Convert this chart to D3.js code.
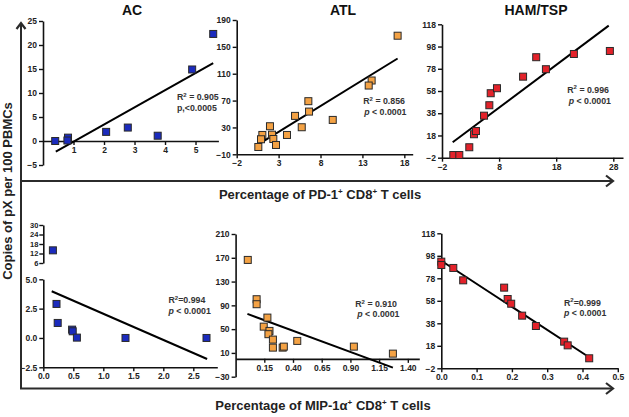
<!DOCTYPE html>
<html><head><meta charset="utf-8">
<script src="https://cdn.jsdelivr.net/npm/d3@7"></script>
<style>
body{margin:0;background:#fff}
svg{display:block}
text{font-family:Arial,"Liberation Sans",Helvetica,sans-serif}
</style>
</head><body>
<svg id="c" width="629" height="417"></svg>
<script>
// ---------- data ----------
const titles = ["AC", "ATL", "HAM/TSP"];

const acTopX = [0.4, 0.82, 0.8, 2.07, 2.78, 3.76, 4.89, 5.58];
const acTopY = [0, 0.7, 0.1, 1.9, 2.8, 1.1, 14.9, 22.3];
const acTopFit = [[0.42, -2.2], [5.58, 16.2]];
const acTopXTicks = [1, 2, 3, 4, 5];
const acTopYTicks = [-5, 0, 5, 10, 15, 20, 25];

const atlTopX = [17.2, 14.1, 13.75, 6.55, 6.63, 4.96, 9.46, 5.76, 1.97, 4.0, 2.21, 1.06, 2.37, 0.90, 2.69, 0.58];
const atlTopY = [166.6, 99.9, 92.4, 69.1, 53.6, 47.2, 41.2, 30.3, 31.8, 18.8, 19.2, 18.8, 12.8, 12.4, 3.9, 0.9];
const atlTopFit = [[0.58, 4.9], [17.2, 132.7]];
const atlTopXTicks = [-2, 3, 8, 13, 18];
const atlTopYTicks = [-10, 30, 70, 110, 150, 190];

const hamTopX = [-0.02, 1.03, 2.78, 3.6, 3.95, 5.36, 6.29, 6.53, 7.63, 12.2, 14.5, 16.2, 21.1, 27.4];
const hamTopY = [0.4, 0.4, 7.4, 19.1, 22, 35.8, 45.2, 56, 60.5, 70.9, 88.4, 77.6, 91.3, 94.0];
const hamTopFit = [[-0.13, 11.9], [27.2, 116.8]];
const hamTopXTicks = [-2, 8, 18, 28];
const hamTopYTicks = [-2, 18, 38, 58, 78, 98, 118];

const acBotX = [0.16, 0.22, 0.24, 0.48, 0.49, 0.56, 1.37, 2.72];
const acBotY = [14, 2.9, 1.28, 0.71, 0.57, 0.03, 0, 0];
const acBotFit = [[0.14, 3.98], [2.73, -1.79]];
const acBotXTicks = [0.0, 0.5, 1.0, 1.5, 2.0, 2.5];
const acBotYTicks = [-2.5, 0.0, 2.5, 5.0];
const acBotYTicksUpper = [6, 12, 18, 24, 30];

const atlBotX = [0.006, 0.083, 0.083, 0.177, 0.145, 0.195, 0.186, 0.225, 0.225, 0.31, 0.32, 0.437, 0.93, 1.27];
const atlBotY = [166.4, 100.3, 91.9, 69.4, 54.2, 47.0, 41.5, 32.4, 18.9, 18.9, 20.6, 30.2, 20.6, 8.8];
const atlBotFit = [[0.003, 75.6], [1.27, -14.7]];
const atlBotXTicks = [0.15, 0.40, 0.65, 0.90, 1.15, 1.40];
const atlBotYTicks = [-30, 10, 50, 90, 130, 170, 210];

const hamBotX = [0.0, 0.0, 0.034, 0.062, 0.178, 0.188, 0.198, 0.229, 0.268, 0.348, 0.358, 0.419];
const hamBotY = [92.8, 89.8, 87.2, 76.2, 69.7, 59.6, 55.4, 44.8, 35.6, 21.7, 18.4, 6.9];
const hamBotFit = [[0.001, 93.4], [0.421, 7.4]];
const hamBotXTicks = [0.0, 0.1, 0.2, 0.3, 0.4, 0.5];
const hamBotYTicks = [-2, 18, 38, 58, 78, 98, 118];

const stats = [
  ["0.905", "p,<0.0005"], ["0.856", "< 0.0001"], ["0.996", "< 0.0001"],
  ["0.994", "< 0.0001"], ["0.910", "< 0.0001"], ["0.999", "< 0.0001"]
];
const yLabel = "Copies of pX per 100 PBMCs";

// ---------- drawing ----------
const svg = d3.select("#c");
const colors = {ac: "#1b2bbd", atl: "#f4a244", ham: "#e3222a"};
const TXT = "#222";

function styleAxis(sel, fs) {
  sel.select(".domain").attr("stroke", "#111").attr("stroke-width", 1.6);
  sel.selectAll(".tick line").attr("stroke", "#111").attr("stroke-width", 1.4);
  sel.selectAll(".tick text").attr("fill", TXT).attr("font-size", fs || 8.5)
     .attr("font-weight", "bold").attr("font-family", "Arial, 'Liberation Sans', sans-serif");
}

function panel(p) {
  const x = d3.scaleLinear().domain(p.xDomain).range(p.xRange);
  const y = d3.scaleLinear().domain(p.yDomain).range(p.yRange);
  const g = svg.append("g");
  const ya = d3.axisLeft(y).tickValues(p.yTicks).tickSize(4).tickSizeOuter(0).tickPadding(2)
    .tickFormat(p.yFmt || d3.format("d"));
  g.append("g").attr("transform", `translate(${p.xRange[0]},0)`).call(ya).call(s => styleAxis(s));
  const xa = d3.axisBottom(x).tickValues(p.xTicks).tickSize(4).tickSizeOuter(0).tickPadding(2)
    .tickFormat(p.xFmt || d3.format("d"));
  g.append("g").attr("transform", `translate(0,${y(p.xAxisAt)})`).call(xa).call(s => styleAxis(s));
  let yU = null;
  if (p.upper) {
    yU = d3.scaleLinear().domain(p.upper.domain).range(p.upper.range);
    const yaU = d3.axisLeft(yU).tickValues(p.upper.ticks).tickSize(4).tickSizeOuter(0).tickPadding(1)
      .tickFormat(d3.format("d"));
    g.append("g").attr("transform", `translate(${p.xRange[0]},0)`).call(yaU).call(s => styleAxis(s, 7.5));
  }
  g.append("line")
    .attr("x1", x(p.fit[0][0])).attr("y1", y(p.fit[0][1]))
    .attr("x2", x(p.fit[1][0])).attr("y2", y(p.fit[1][1]))
    .attr("stroke", "#000").attr("stroke-width", 2);
  const pts = p.xs.map((v, i) => ({x: v, y: p.ys[i]}));
  const s = 7;
  g.selectAll("rect.pt").data(pts).join("rect").attr("class", "pt")
    .attr("x", d => x(d.x) - s / 2)
    .attr("y", d => (yU && d.y > p.upper.domain[0] - 1 ? yU(d.y) : y(d.y)) - s / 2)
    .attr("width", s).attr("height", s)
    .attr("fill", p.color).attr("stroke", "#2a2a2a").attr("stroke-width", 1);
  const st = g.append("g").attr("fill", "#333").attr("font-size", 8.8).attr("font-weight", "bold");
  const t1 = st.append("text").attr("x", p.statPos[0]).attr("y", p.statPos[1]).attr("text-anchor", p.anchor);
  t1.append("tspan").text("R");
  t1.append("tspan").attr("font-size", 6).attr("dy", -3.5).text("2");
  t1.append("tspan").attr("dy", 3.5).text(p.tight ? "=" + p.stat[0] : " = " + p.stat[0]);
  const t2 = st.append("text").attr("x", p.statPos2[0]).attr("y", p.statPos2[1]).attr("text-anchor", p.anchor);
  if (p.stat[1].startsWith("p,")) {
    t2.text(p.stat[1]);
  } else {
    t2.append("tspan").attr("font-style", "italic").text("p");
    t2.append("tspan").text(" " + p.stat[1]);
  }
}

panel({xDomain: [0, 5.75], xRange: [43, 218.4], yDomain: [-5, 25], yRange: [165, 21], xAxisAt: 0,
  xTicks: acTopXTicks, yTicks: acTopYTicks, xs: acTopX, ys: acTopY, fit: acTopFit, color: colors.ac,
  stat: stats[0], statPos: [177, 100], statPos2: [177, 111], anchor: "start"});
panel({xDomain: [-2, 19], xRange: [236.7, 412.7], yDomain: [-10, 190], yRange: [154.3, 20], xAxisAt: -10,
  xTicks: atlTopXTicks, yTicks: atlTopYTicks, xs: atlTopX, ys: atlTopY, fit: atlTopFit, color: colors.atl,
  stat: stats[1], statPos: [405, 104], statPos2: [406.5, 114.5], anchor: "end"});
panel({xDomain: [-2, 29.7], xRange: [442, 623], yDomain: [-2, 118], yRange: [157.7, 24.3], xAxisAt: -2,
  xTicks: hamTopXTicks, yTicks: hamTopYTicks, xs: hamTopX, ys: hamTopY, fit: hamTopFit, color: colors.ham,
  stat: stats[2], statPos: [609, 92.5], statPos2: [611, 103.5], anchor: "end"});
panel({xDomain: [0, 2.9], xRange: [43.3, 217.3], yDomain: [-2.5, 5], yRange: [367.3, 279.3], xAxisAt: -2.5,
  xTicks: acBotXTicks, yTicks: acBotYTicks, xFmt: d3.format(".1f"), yFmt: d3.format(".1f"),
  upper: {domain: [6, 30], range: [263, 225], ticks: acBotYTicksUpper},
  xs: acBotX, ys: acBotY, fit: acBotFit, color: colors.ac, tight: true,
  stat: stats[3], statPos: [168.5, 303], statPos2: [168.5, 314], anchor: "start"});
panel({xDomain: [-0.1, 1.5], xRange: [235.6, 419.3], yDomain: [-30, 210], yRange: [376.7, 234], xAxisAt: 0,
  xTicks: atlBotXTicks, yTicks: atlBotYTicks, xFmt: d3.format(".2f"), xs: atlBotX, ys: atlBotY,
  fit: atlBotFit, color: colors.atl,
  stat: stats[4], statPos: [397, 307], statPos2: [399.5, 317], anchor: "end"});
panel({xDomain: [0, 0.5], xRange: [441.3, 617.8], yDomain: [-2, 118], yRange: [368.3, 233.3], xAxisAt: -2,
  xTicks: hamBotXTicks, yTicks: hamBotYTicks, xFmt: d3.format(".1f"), xs: hamBotX, ys: hamBotY,
  fit: hamBotFit, color: colors.ham, tight: true,
  stat: stats[5], statPos: [564, 305.5], statPos2: [564, 315.5], anchor: "start"});

const titleX = [132, 343, 536];
svg.selectAll("text.title").data(titles).join("text").attr("class", "title")
  .attr("x", (d, i) => titleX[i]).attr("y", 15).attr("text-anchor", "middle")
  .attr("font-size", 14).attr("font-weight", "bold").attr("fill", "#111").text(d => d);

const fr = svg.append("g").attr("stroke", "#2b2b2b").attr("fill", "none").attr("stroke-width", 2);
fr.append("path").attr("d", "M21,388.5 L21,23");
fr.append("path").attr("d", "M16.5,29 L21,23 L25.5,29").attr("stroke-width", 2.2);
fr.append("path").attr("d", "M21,181 L613,181");
fr.append("path").attr("d", "M606,175.5 L613,181 L606,186.5").attr("stroke-width", 2.2);
fr.append("path").attr("d", "M20,388.5 L613,388.5");
fr.append("path").attr("d", "M606,383 L613,388.5 L606,394").attr("stroke-width", 2.2);

svg.append("text").attr("transform", "translate(12,191) rotate(-90)").attr("text-anchor", "middle")
  .attr("font-size", 13).attr("font-weight", "bold").attr("fill", "#222").text(yLabel);

function supLabel(x, y, parts) {
  const t = svg.append("text").attr("x", x).attr("y", y).attr("text-anchor", "middle")
    .attr("font-size", 13).attr("font-weight", "bold").attr("fill", "#222");
  let raised = false;
  parts.forEach(([s, sup]) => {
    const ts = t.append("tspan").text(s);
    if (sup) { ts.attr("font-size", 8).attr("dy", raised ? 0 : -5); raised = true; }
    else { ts.attr("dy", raised ? 5 : 0); raised = false; }
  });
}
supLabel(320, 199, [["Percentage of PD-1", false], ["+", true], [" CD8", false], ["+", true], [" T cells", false]]);
supLabel(323, 410, [["Percentage of MIP-1α", false], ["+", true], [" CD8", false], ["+", true], [" T cells", false]]);
</script>
</body></html>
